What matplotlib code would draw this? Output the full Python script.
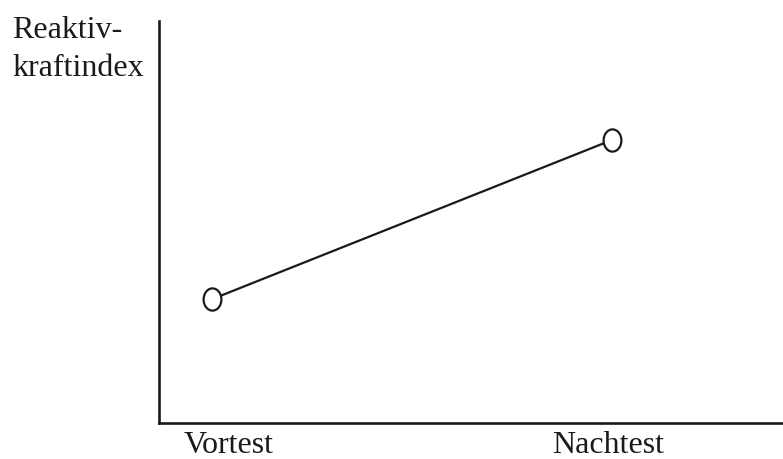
import numpy as np
import matplotlib
matplotlib.use("Agg")
import matplotlib.pyplot as plt
from matplotlib.path import Path

# Data
categories = ["Vortest", "Nachtest"]
values = [30.8, 70.4]
y_label = "Reaktiv-\nkraftindex"

plt.rcParams['font.family'] = ['Liberation Serif', 'DejaVu Serif']

fig = plt.figure(figsize=(7.83, 4.59), dpi=100)
ax = fig.add_axes([159/783, 36/459, 1 - 159/783, (423 - 21)/459])

# elliptical open marker (slightly taller than wide)
t = np.linspace(0, 2*np.pi, 60)
ell = Path(np.column_stack([0.8*np.cos(t), np.sin(t)]), closed=True)

x = np.arange(len(categories))
ax.plot(x, values, color='#1a1a1a', lw=1.6, marker=ell, markersize=16,
        markerfacecolor='white', markeredgecolor='#1a1a1a', markeredgewidth=1.6,
        zorder=3)

ax.set_xlim(-0.1325, 1.4275)
ax.set_ylim(0, 100)

for s in ['top', 'right']:
    ax.spines[s].set_visible(False)
for s in ['left', 'bottom']:
    ax.spines[s].set_linewidth(1.9)
    ax.spines[s].set_color('#1a1a1a')

label_pos = [0.0425, 0.99]
ax.set_xticks(label_pos)
ax.set_xticklabels(categories, fontsize=23, color='#1a1a1a')
ax.tick_params(axis='x', length=0, pad=5.5)
ax.set_yticks([])

fig.text(12/783, 1 - 16/459, y_label, fontsize=23, ha='left', va='top',
         linespacing=1.42, color='#1a1a1a')

fig.savefig("out.png", dpi=100)
